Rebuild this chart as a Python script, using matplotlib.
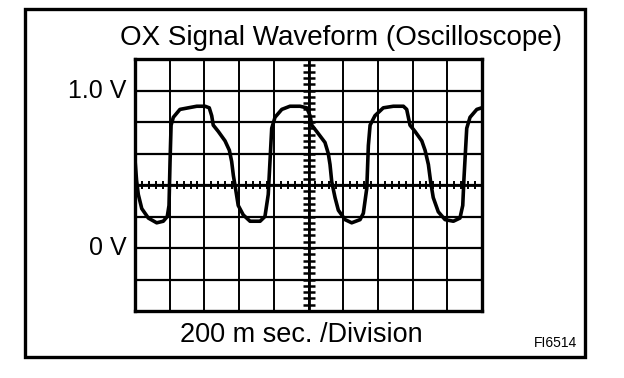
import matplotlib
matplotlib.use("Agg")
import matplotlib.pyplot as plt
from matplotlib.patches import Rectangle
import numpy as np

plt.rcParams['font.family'] = ['Liberation Sans', 'DejaVu Sans']

# Waveform: time (ms) and voltage (V)
time_ms = [0, 9, 19, 39, 77, 125, 163, 186, 196, 202, 208, 221, 259, 307, 356, 404,
           428, 442, 451, 480, 519, 544, 557, 567, 582, 595, 624, 663, 721, 749,
           768, 778, 788, 807, 846, 893, 951, 990, 1009, 1019, 1047, 1095, 1114,
           1124, 1134, 1153, 1172, 1211, 1249, 1297, 1316, 1336, 1345, 1355, 1383,
           1431, 1489, 1547, 1566, 1585, 1614, 1653, 1672, 1691, 1704, 1719, 1748,
           1787, 1835, 1873, 1889, 1896, 1912, 1931, 1970, 1998]
volts = [0.56, 0.43, 0.34, 0.25, 0.19, 0.16, 0.17, 0.20, 0.27, 0.55, 0.78, 0.83,
         0.88, 0.89, 0.90, 0.90, 0.89, 0.84, 0.78, 0.74, 0.68, 0.62, 0.55, 0.46,
         0.36, 0.27, 0.21, 0.17, 0.17, 0.20, 0.34, 0.55, 0.76, 0.83, 0.88, 0.90,
         0.90, 0.89, 0.84, 0.78, 0.74, 0.67, 0.60, 0.53, 0.42, 0.32, 0.24, 0.18,
         0.16, 0.18, 0.22, 0.38, 0.65, 0.78, 0.84, 0.89, 0.90, 0.90, 0.88, 0.78,
         0.74, 0.68, 0.62, 0.53, 0.42, 0.32, 0.23, 0.18, 0.17, 0.19, 0.27, 0.44,
         0.76, 0.83, 0.88, 0.89]

title = "OX Signal Waveform (Oscilloscope)"
y_labels = ["1.0 V", "0 V"]
y_label_values = [1.0, 0.0]
x_caption = "200 m sec. /Division"
fig_code = "FI6514"

ms_per_div = 200
v_per_div = 0.2
x_divs = 10
y_divs = 8
y_min = -0.4

W, H = 624, 378
fig = plt.figure(figsize=(W / 100, H / 100), dpi=100)
fig.patch.set_facecolor('white')

def fx(px):
    return px / W

def fy(py):
    return 1 - py / H

# outer frame
fig.patches.append(Rectangle((fx(25), fy(357)), fx(585) - fx(25), fy(9) - fy(357),
                             transform=fig.transFigure, fill=False, lw=2.4,
                             edgecolor='black'))

ax = fig.add_axes([fx(135), fy(311), fx(482) - fx(135), fy(59) - fy(311)])
x_max = ms_per_div * x_divs
y_max = y_min + v_per_div * y_divs
ax.set_xlim(0, x_max)
ax.set_ylim(y_min, y_max)

for s in ax.spines.values():
    s.set_linewidth(2.4)
ax.set_xticks([])
ax.set_yticks([])

# grid
for i in range(1, x_divs):
    ax.axvline(i * ms_per_div, color='black', lw=1.4, zorder=1)
for j in range(1, y_divs):
    ax.axhline(y_min + j * v_per_div, color='black', lw=1.6, zorder=1)

# center axes with fine ticks
xc = x_max / 2
yc = (y_min + y_max) / 2
xt = np.arange(0, x_max + 1e-6, ms_per_div / 5)
yt = np.arange(y_min, y_max + 1e-6, v_per_div / 5)
ax.plot(xt, np.full_like(xt, yc), ls='none', marker='|', ms=6, mew=1.4,
        color='black', zorder=2)
ax.plot(np.full_like(yt, xc), yt, ls='none', marker='_', ms=8, mew=1.8,
        color='black', zorder=2)
ax.axhline(yc, color='black', lw=2.0, zorder=2)
ax.axvline(xc, color='black', lw=2.0, zorder=2)

# waveform
ax.plot(time_ms, volts, color='black', lw=2.6, solid_joinstyle='round',
        solid_capstyle='round', zorder=3, clip_on=True)

# texts
fig.text(fx(341), fy(38), title, ha='center', va='center', fontsize=20)
for lab, v in zip(y_labels, y_label_values):
    ax.annotate(lab, xy=(0, v), xycoords=('axes fraction', 'data'),
                xytext=(-6, 0), textcoords='offset points',
                ha='right', va='center', fontsize=18)
fig.text(fx(301), fy(335), x_caption, ha='center', va='center', fontsize=19.5)
fig.text(fx(577), fy(343), fig_code, ha='right', va='center', fontsize=10)

fig.savefig('out.png', dpi=100, facecolor='white')
